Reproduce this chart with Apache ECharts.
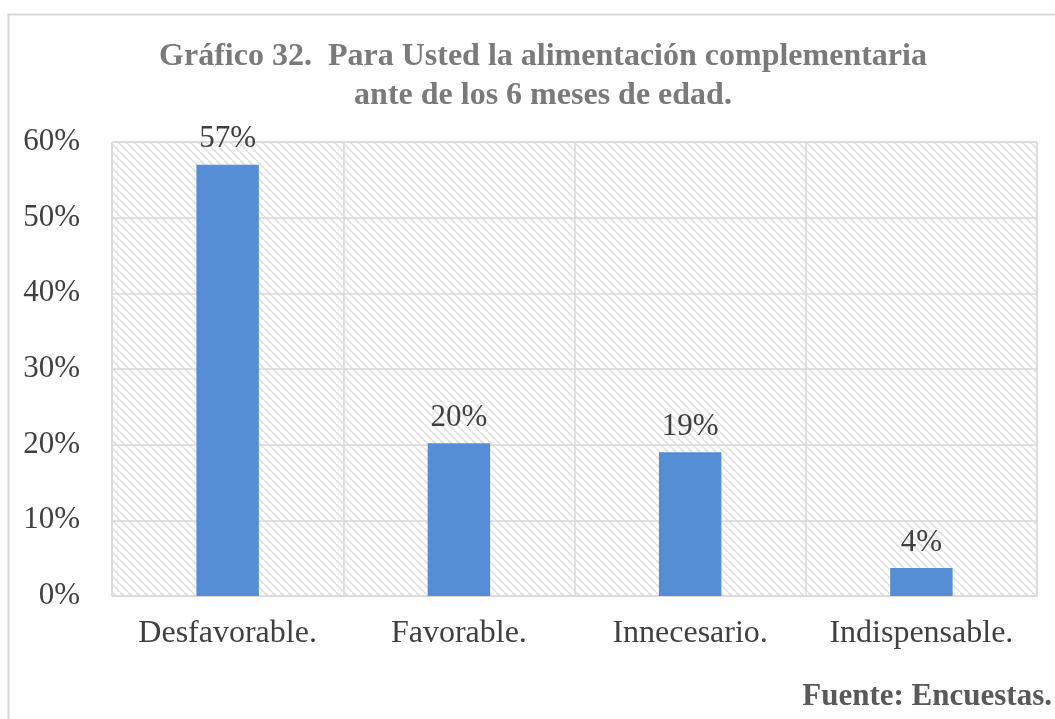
<!DOCTYPE html>
<html><head><meta charset="utf-8">
<script src="https://cdn.jsdelivr.net/npm/echarts@6/dist/echarts.min.js"></script>
<style>html,body{margin:0;padding:0;background:#fff}#c{width:1055px;height:719px}</style>
</head><body><div id="c"></div>
<script>
var categories = ['Desfavorable.', 'Favorable.', 'Innecesario.', 'Indispensable.'];
var values = [57.0, 20.2, 19.0, 3.7];
var yTicks = [0, 10, 20, 30, 40, 50, 60];
var titleText = 'Gráfico 32.  Para Usted la alimentación complementaria\nante de los 6 meses de edad.';
var sourceText = 'Fuente: Encuestas.';

function hatch() {
  var s = 8;
  var c = document.createElement('canvas');
  c.width = s; c.height = s;
  var g = c.getContext('2d');
  g.fillStyle = '#ffffff'; g.fillRect(0, 0, s, s);
  g.strokeStyle = '#e2e2e2'; g.lineWidth = 1.9;
  for (var k = -1; k <= 1; k++) {
    g.beginPath();
    g.moveTo(k * s, 0); g.lineTo(k * s + s, s);
    g.stroke();
  }
  return c;
}

var chart = echarts.init(document.getElementById('c'), null, {renderer: 'canvas'});
var serif = '"Liberation Serif", "Times New Roman", serif';
chart.setOption({
  animation: false,
  backgroundColor: '#ffffff',
  title: {
    text: titleText, left: 538, top: 32, textAlign: 'center',
    textStyle: {fontFamily: serif, fontWeight: 'bold', fontSize: 32, color: '#7a7a7a', lineHeight: 39}
  },
  graphic: [
    {type: 'rect', shape: {x: 8.5, y: 14.5, width: 1100, height: 800}, style: {fill: null, stroke: '#d9d9d9', lineWidth: 2}, silent: true, z: 0},
    {type: 'text', right: 3, top: 681, style: {text: sourceText, font: 'bold 31px ' + serif, fill: '#595959'}}
  ],
  grid: {left: 112, right: 18, top: 142, bottom: 123, show: true, backgroundColor: {image: hatch(), repeat: 'repeat'}, borderColor: '#d9d9d9', borderWidth: 1},
  xAxis: {
    type: 'category', data: categories,
    axisLine: {show: true, lineStyle: {color: '#d9d9d9', width: 1}},
    axisTick: {show: false},
    splitLine: {show: true, interval: 0, lineStyle: {color: '#d9d9d9', width: 1.5}},
    axisLabel: {interval: 0, hideOverlap: false, fontFamily: serif, fontSize: 32, color: '#404040', margin: 22}
  },
  yAxis: {
    type: 'value', min: yTicks[0], max: yTicks[yTicks.length - 1], interval: 10,
    axisLine: {show: false}, axisTick: {show: false},
    splitLine: {show: true, lineStyle: {color: '#d9d9d9', width: 1.5}},
    axisLabel: {fontFamily: serif, fontSize: 31, color: '#404040', margin: 32, formatter: function (v) { return v + '%'; }}
  },
  series: [{
    type: 'bar', data: values, barWidth: '27%',
    itemStyle: {color: '#558ed5'},
    label: {show: true, position: 'top', distance: 10, fontFamily: serif, fontSize: 31, color: '#404040',
      formatter: function (p) { return Math.round(p.value) + '%'; }}
  }]
});
</script></body></html>
